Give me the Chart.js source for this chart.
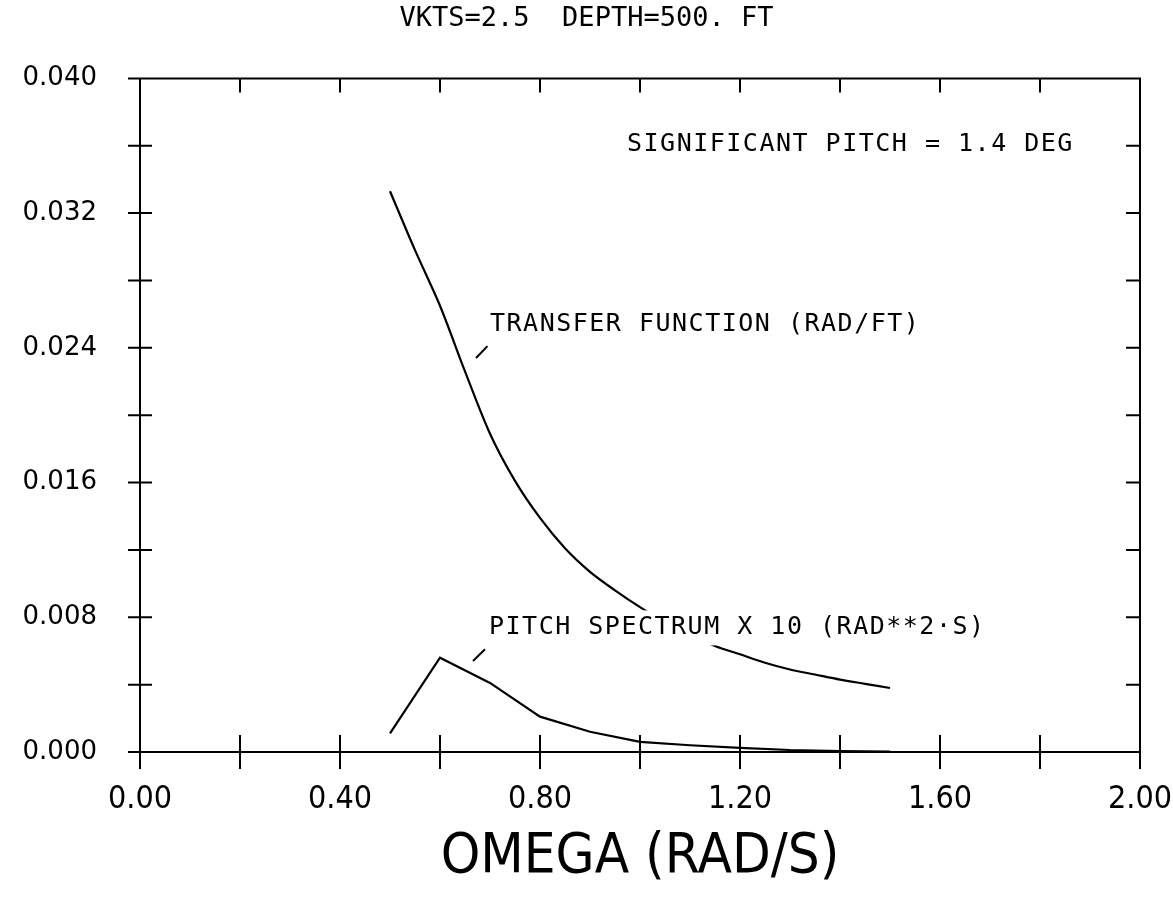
<!DOCTYPE html>
<html>
<head>
<meta charset="utf-8">
<script src="https://cdn.jsdelivr.net/npm/chart.js@4.4.1/dist/chart.umd.min.js"></script>
<style>
  html, body { margin: 0; padding: 0; background: #fff; }
  canvas { display: block; }
</style>
</head>
<body>
<canvas id="chart" width="1173" height="907"></canvas>
<script>
// transfer function (rad/ft) vs omega
const omega = [0.50, 0.55, 0.60, 0.65, 0.70, 0.75, 0.80, 0.85, 0.90, 0.95, 1.00,
               1.05, 1.10, 1.15, 1.20, 1.25, 1.30, 1.35, 1.40, 1.45, 1.50];
const transferFn = [0.0333, 0.0298, 0.0265, 0.0226, 0.0189, 0.0161, 0.0139, 0.0121, 0.0107, 0.0096, 0.0086,
                    0.0077, 0.0070, 0.0063, 0.0058, 0.0053, 0.0049, 0.0046, 0.0043, 0.00405, 0.0038];

// pitch spectrum x 10
const pitchOmega = [0.5, 0.6, 0.7, 0.8, 0.9, 1.0, 1.1, 1.2, 1.3, 1.4, 1.5];
const pitchSpectrum = [0.0011, 0.0056, 0.0041, 0.0021, 0.0012, 0.0006, 0.0004, 0.00025, 0.00012, 0.00006, 0.00003];

// labelled ticks and all tick marks
const xTickLabels = [0, 0.4, 0.8, 1.2, 1.6, 2.0];
const yTickLabels = [0, 0.008, 0.016, 0.024, 0.032, 0.040];
const xTickMarks = [0, 0.2, 0.4, 0.6, 0.8, 1.0, 1.2, 1.4, 1.6, 1.8, 2.0];
const yTickMarks = [0, 0.004, 0.008, 0.012, 0.016, 0.020, 0.024, 0.028, 0.032, 0.036, 0.040];

const title = 'VKTS=2.5  DEPTH=500. FT';
const notes = [
  { text: 'SIGNIFICANT PITCH = 1.4 DEG', x: 0.974, y: 0.0361 },
  { text: 'TRANSFER FUNCTION (RAD/FT)', x: 0.700, y: 0.0254, lead: [0.672, 0.0234, 0.695, 0.0241] },
  { text: 'PITCH SPECTRUM X 10 (RAD**2\u00B7S)', x: 0.698, y: 0.0074, lead: [0.666, 0.0054, 0.690, 0.0061], blank: true }
];

const monoFont = '"DejaVu Sans Mono", "Liberation Mono", monospace';
const narrowFont = '"Liberation Sans Narrow", "DejaVu Sans Condensed", "Liberation Sans", sans-serif';

const plotter = {
  id: 'plotter',
  afterDatasetsDraw(chart) {
    const ctx = chart.ctx;
    const xs = chart.scales.x, ys = chart.scales.y;
    const { left, right, top, bottom } = chart.chartArea;
    ctx.save();
    ctx.font = '25px ' + monoFont;
    ctx.letterSpacing = '1.5px';
    ctx.textBaseline = 'middle';
    ctx.textAlign = 'left';

    notes.forEach(n => {
      const px = xs.getPixelForValue(n.x), py = ys.getPixelForValue(n.y);
      if (n.blank) {
        const w = ctx.measureText(n.text).width;
        ctx.fillStyle = '#fff';
        ctx.fillRect(px - 4, py - 17, w + 8, 35);
      }
      ctx.fillStyle = '#000';
      ctx.fillText(n.text, px, py);
      if (n.lead) {
        ctx.strokeStyle = '#000';
        ctx.lineWidth = 2;
        ctx.beginPath();
        ctx.moveTo(xs.getPixelForValue(n.lead[0]), ys.getPixelForValue(n.lead[1]));
        ctx.lineTo(xs.getPixelForValue(n.lead[2]), ys.getPixelForValue(n.lead[3]));
        ctx.stroke();
      }
    });

    // frame
    ctx.strokeStyle = '#000';
    ctx.lineWidth = 2;
    ctx.beginPath();
    ctx.moveTo(left - 12, top); ctx.lineTo(right, top); ctx.lineTo(right, bottom);
    ctx.moveTo(left - 12, bottom); ctx.lineTo(right, bottom);
    ctx.moveTo(left, top); ctx.lineTo(left, bottom + 4);
    xTickMarks.forEach(v => {
      const px = xs.getPixelForValue(v);
      ctx.moveTo(px, bottom - 17); ctx.lineTo(px, bottom + 17);
      if (v > 0 && v < 2) { ctx.moveTo(px, top); ctx.lineTo(px, top + 14); }
    });
    yTickMarks.forEach(v => {
      const py = ys.getPixelForValue(v);
      ctx.moveTo(left - 12, py); ctx.lineTo(left + 12, py);
      if (v > 0 && v < 0.04) { ctx.moveTo(right - 14, py); ctx.lineTo(right, py); }
    });
    ctx.stroke();
    ctx.restore();
  }
};

new Chart(document.getElementById('chart'), {
  type: 'line',
  data: {
    datasets: [
      {
        label: 'TRANSFER FUNCTION (RAD/FT)',
        data: omega.map((w, i) => ({ x: w, y: transferFn[i] })),
        borderColor: '#000',
        borderWidth: 2.2,
        pointRadius: 0,
        tension: 0.3,
        fill: false
      },
      {
        label: 'PITCH SPECTRUM X 10 (RAD**2\u00B7S)',
        data: pitchOmega.map((w, i) => ({ x: w, y: pitchSpectrum[i] })),
        borderColor: '#000',
        borderWidth: 2.2,
        pointRadius: 0,
        tension: 0,
        fill: false
      }
    ]
  },
  options: {
    responsive: false,
    animation: false,
    layout: { padding: { top: 0, right: 0, bottom: 0, left: 0 } },
    plugins: {
      legend: { display: false },
      tooltip: { enabled: false },
      title: {
        display: true,
        text: title,
        color: '#000',
        font: { family: monoFont, size: 27, weight: 'normal' },
        padding: { top: 3, bottom: 43 }
      }
    },
    scales: {
      x: {
        type: 'linear',
        min: 0,
        max: 2,
        afterFit: s => { s.height = 155; s.paddingRight = 33; },
        afterBuildTicks: s => { s.ticks = xTickLabels.map(v => ({ value: v })); },
        grid: { display: false, drawTicks: false },
        border: { display: false },
        ticks: {
          color: '#000',
          padding: 28,
          maxRotation: 0,
          autoSkip: false,
          font: { family: narrowFont, size: 32 },
          callback: v => Number(v).toFixed(2)
        },
        title: {
          display: true,
          text: 'OMEGA (RAD/S)',
          color: '#000',
          font: { family: narrowFont, size: 56, weight: 'lighter' },
          padding: { top: 0, bottom: 16 }
        }
      },
      y: {
        type: 'linear',
        min: 0,
        max: 0.04,
        afterFit: s => { s.width = 140; },
        afterBuildTicks: s => { s.ticks = yTickLabels.map(v => ({ value: v })); },
        grid: { display: false, drawTicks: false },
        border: { display: false },
        ticks: {
          color: '#000',
          padding: 43,
          autoSkip: false,
          font: { family: '"DejaVu Sans", sans-serif', size: 26 },
          callback: v => Number(v).toFixed(3)
        }
      }
    }
  },
  plugins: [plotter]
});
</script>
</body>
</html>
